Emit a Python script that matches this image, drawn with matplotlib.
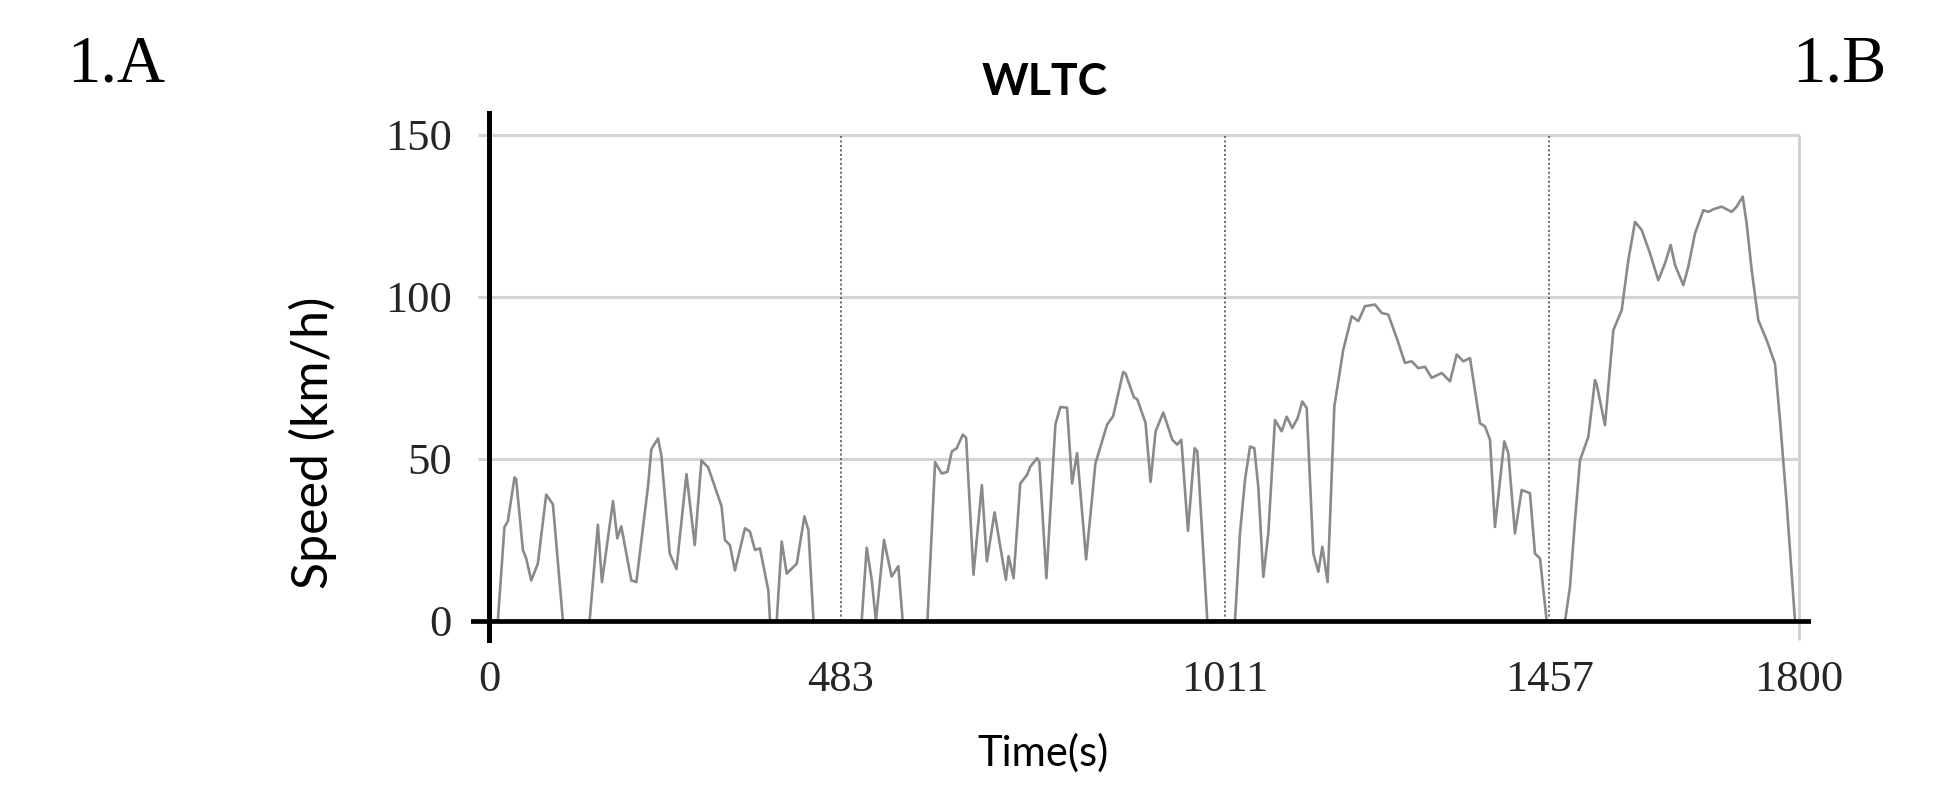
# WLTC speed trace, panel 1.A / 1.B style
import matplotlib
matplotlib.use("Agg")
import matplotlib.pyplot as plt

# ----- data -----
time_s = [0, 11.5, 20.6, 25.2, 34.4, 36.7, 45.9, 50.5, 57.4, 66.5, 78, 87.2, 101,
          137.6, 149, 154.6, 169.8, 175.7, 181.2, 195, 201.9, 218, 222.5, 231.7,
          236.3, 247.8, 257, 270.8, 282.2, 291.4, 300.6, 319, 323.6, 330.5, 337.4,
          351.2, 358, 364.9, 371.8, 383.3, 385.6, 394.8, 401.7, 408.6, 422.4,
          432.9, 438.4, 445.4,
          511.6, 518.5, 525.4, 531.2, 542.3, 552.8, 562, 568, 602, 612.5, 621.6,
          629.5, 635.5, 642.3, 650.6, 655.2, 665.3, 676.8, 683.7, 694.3, 704.3,
          709.9, 713.5, 720.4, 729.6, 738.8, 743.4, 752.6, 755.8, 765.5, 777.9,
          784.7, 793.9, 800.8, 807.7, 820.1, 832.9, 849, 857.3, 871, 874.3, 885.8,
          890.4, 901.8, 908.7, 915.6, 926.2, 938.6, 945.4, 951, 960.1, 969.3, 973,
          986.7,
          1024.7, 1031.6, 1038.5, 1045.4, 1051.3, 1056.8, 1063.7, 1070.5, 1079.7,
          1088.9, 1095.8, 1103.5, 1110.9, 1117.3, 1123.3, 1132.4, 1139.3, 1144.8,
          1152.1, 1161.3, 1173.6, 1185.2, 1194.3, 1203.4, 1217.2, 1226.4, 1235.5,
          1247, 1258.4, 1267.6, 1276.7, 1285.9, 1295.1, 1308.9, 1320.3, 1329.5,
          1338.6, 1347.8, 1361.5, 1368.4, 1375.3, 1382.1, 1394.9, 1400.4, 1409.6,
          1418.8, 1430.2, 1437.1, 1444, 1453.2,
          1478.4, 1485.2, 1492.1, 1499, 1510.4, 1519.6, 1521.9, 1533.3, 1544.8,
          1556.3, 1565.4, 1574.6, 1583.8, 1595.2, 1606.6, 1615.8, 1623.6, 1629.6,
          1641, 1647.9, 1657, 1668.5, 1675.4, 1682.2, 1693.7, 1707.5, 1714.3,
          1722.6, 1728.1, 1735, 1744.1, 1755.6, 1767, 1773.9, 1783.1, 1794.5, 1800]

speed_kmh = [0, 0, 29, 30.7, 44.3, 43.7, 21.9, 19.3, 12.5, 17.7, 39, 36, 0,
             0, 29.7, 12, 37, 25.5, 29.2, 12.5, 12, 41.7, 53, 56.3,
             51, 20.8, 16, 45.3, 23.4, 49.5, 47.4, 35.4, 25, 23.4, 15.6,
             28.6, 27.6, 21.9, 22.4, 9.4, 0, 0, 24.5, 14.6, 17.7,
             32.3, 28, 0,
             0, 22.6, 12.7, 0, 25, 13.7, 16.9, 0, 0, 49, 45.5,
             46, 52.3, 53.3, 57.5, 56.5, 14.3, 41.9, 18.4, 33.5, 20,
             12.7, 20, 13.2, 42.4, 45, 47.6, 50.2, 49.2, 13.2, 60.6,
             66, 65.8, 42.4, 51.8, 19, 48.6, 60.6, 63.2, 76.8, 76.3, 69,
             68.4, 61.1, 42.9, 58.5, 64.3, 55.9, 54.4, 55.9, 27.8, 53.3, 52.3,
             0,
             0, 27, 43.5, 53.8, 53.3, 41.4, 13.6, 27, 62,
             58.5, 63, 59.5, 62.6, 67.7, 65.7, 20.8, 15.2, 22.9,
             12, 66.2, 83.7, 94, 92.5, 97.1, 97.6, 95, 94.5,
             87.3, 79.6, 80.1, 78, 78.4, 75, 76.5, 73.9, 82.2,
             80.1, 81.1, 61, 60, 55.9, 29, 55.4, 51.8, 27,
             40.4, 39.4, 20.8, 19.3, 0,
             0, 10.5, 31, 49.6, 56.8, 74.3, 73, 60.4, 89.7,
             95.9, 111.3, 123.1, 120.6, 113.4, 105.1, 110.3, 116, 109.8,
             103.6, 109.3, 119.5, 126.7, 126.2, 127, 127.8, 126.2, 127.8,
             130.9, 122.6, 108.2, 92.8, 86.6, 79.4, 61.9, 36.2, 0, 0]

x_ticks = [0, 483, 1011, 1457, 1800]
y_ticks = [0, 50, 100, 150]
phase_bounds = [483, 1011, 1457]

# ----- figure -----
W, H = 1942, 791
fig = plt.figure(figsize=(W / 100, H / 100), dpi=100)
left, right, bottom, top = 470.7, 1811, 642.7, 110.7
ax = fig.add_axes([left / W, 1 - bottom / H, (right - left) / W, (bottom - top) / H])
ax.set_xlim(-25.8, 1816.5)
ax.set_ylim(-6.7, 157.4)

for s in ax.spines.values():
    s.set_visible(False)

# grid + phase separators
ax.hlines([50, 100, 150], -15.8, 1800, color="#d4d4d4", lw=2.2, zorder=1)
ax.vlines(phase_bounds, 0, 150, color="#666666", lw=1.4,
          linestyles=[(0, (1, 1.3))], zorder=1)
ax.vlines(1800, -6, 150, color="#cfcfcf", lw=2, zorder=1)

ax.plot(time_s, speed_kmh, color="#8a8a8a", lw=1.9, zorder=3)

# heavy black axes
ax.axvline(0, color="k", lw=3.6, zorder=4)
ax.axhline(0, color="k", lw=3.4, zorder=4)

ax.set_xticks(x_ticks)
ax.set_yticks(y_ticks)
ax.tick_params(axis="both", length=0, labelsize=32, labelcolor="#262626")
ax.tick_params(axis="x", pad=12.5)
ax.tick_params(axis="y", pad=13.7)
for lab in ax.get_xticklabels() + ax.get_yticklabels():
    lab.set_fontfamily("Liberation Serif")

ax.set_ylabel("Speed (km/h)", fontsize=36, fontfamily="Lato", va="center")
ax.yaxis.set_label_coords((313 - left) / (right - left), (bottom - 443) / (bottom - top))
ax.set_xlabel("Time(s)", fontsize=30, fontfamily="Lato", va="center")
ax.xaxis.set_label_coords((1043 - left) / (right - left), (bottom - 753) / (bottom - top))

ax.text((1044.7 - left) / (right - left), (bottom - 95) / (bottom - top), "WLTC",
        transform=ax.transAxes, ha="center", va="baseline",
        fontsize=32, fontweight="bold", fontfamily="Lato")

fig.text(66.7 / W, 1 - 81.7 / H, "1.A", fontsize=48, fontfamily="Liberation Serif",
         ha="left", va="baseline")
fig.text(1791.7 / W, 1 - 81.7 / H, "1.B", fontsize=48, fontfamily="Liberation Serif",
         ha="left", va="baseline")

fig.savefig("out.png", dpi=100)
